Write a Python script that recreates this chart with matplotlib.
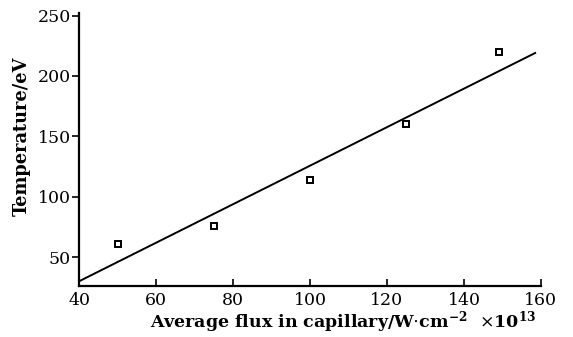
import numpy as np
import matplotlib
matplotlib.use('Agg')
import matplotlib.pyplot as plt

# ── DATA ──────────────────────────────────────────────────────────────────────
flux = [50, 75, 100, 125, 149]
temp = [61, 76, 114, 160, 220]

fit_x = [40, 158.5]
fit_y = [30, 219]

xticks = [40, 60, 80, 100, 120, 140, 160]
yticks = [50, 100, 150, 200, 250]

# ── PLOT ──────────────────────────────────────────────────────────────────────
plt.rcParams['font.family'] = ['DejaVu Serif']
plt.rcParams['mathtext.fontset'] = 'dejavuserif'

fig = plt.figure(figsize=(5.73, 3.37), dpi=100)
ax = fig.add_axes([0.138, 0.151, 0.806, 0.81])

ax.plot(fit_x, fit_y, color='black', lw=1.4)
ax.plot(flux, temp, ls='none', marker='s', ms=5, mfc='white', mec='black', mew=1.4)

ax.set_xlim(40, 160)
ax.set_ylim(26, 252)
ax.set_xticks(xticks)
ax.set_yticks(yticks)
ax.tick_params(axis='x', direction='in', length=5, width=1.2, labelsize=12.5, pad=4)
ax.tick_params(axis='y', direction='out', length=5, width=1.2, labelsize=12.5, pad=1)

for s in ['top', 'right']:
    ax.spines[s].set_visible(False)
for s in ['left', 'bottom']:
    ax.spines[s].set_linewidth(1.6)

ax.set_ylabel("Temperature/eV", fontsize=12.8, fontweight='bold')
ax.yaxis.set_label_coords(-0.104, 0.55)
fig.text(0.599, 0.028, r"Average flux in capillary/W$\cdot$cm$^{\mathbf{-2}}$  $\times$10$^{\mathbf{13}}$",
         ha='center', va='baseline', fontsize=12.5, fontweight='bold')

fig.savefig("out.png", dpi=100)
plt.close()
